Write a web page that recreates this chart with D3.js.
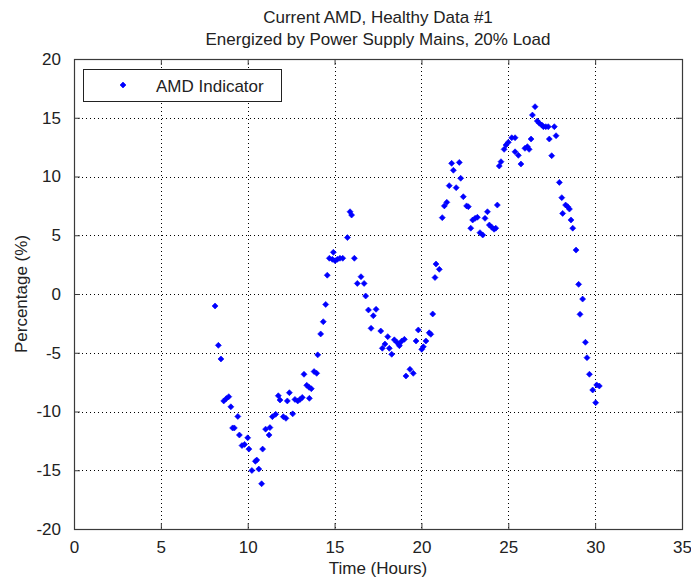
<!DOCTYPE html>
<html>
<head>
<meta charset="utf-8">
<script src="https://cdn.jsdelivr.net/npm/d3@7"></script>
<style>
  html, body { margin: 0; padding: 0; background: #fff; }
  svg text { font-family: "Liberation Sans", Arial, Helvetica, sans-serif; fill: #222; }
</style>
</head>
<body>
<svg id="chart" width="691" height="580"></svg>
<script>
// AMD indicator samples: time in hours and percentage
const timeHours = [
  8.12, 8.31, 8.46, 8.62, 8.77, 8.91, 9.03, 9.13, 9.23, 9.43,
  9.52, 9.67, 9.82, 10.0, 10.07, 10.24, 10.44, 10.52, 10.64, 10.8,
  10.86, 11.03, 11.23, 11.28, 11.42, 11.61, 11.76, 11.86, 12.05, 12.2,
  12.28, 12.4, 12.59, 12.72, 12.88, 13.01, 13.14, 13.24, 13.4, 13.53,
  13.55, 13.66, 13.82, 13.97, 14.03, 14.2, 14.35, 14.49, 14.58, 14.7,
  14.87, 14.93, 15.03, 15.16, 15.31, 15.47, 15.74, 15.89, 15.98, 16.14,
  16.31, 16.52, 16.7, 16.79, 16.95, 17.1, 17.23, 17.39, 17.66, 17.75,
  17.9, 18.06, 18.15, 18.29, 18.44, 18.58, 18.71, 18.73, 18.87, 19.02,
  19.11, 19.34, 19.53, 19.69, 19.82, 20.02, 20.11, 20.26, 20.45, 20.54,
  20.65, 20.78, 20.84, 21.03, 21.2, 21.32, 21.46, 21.6, 21.74, 21.84,
  22.0, 22.18, 22.26, 22.41, 22.6, 22.7, 22.84, 22.95, 23.09, 23.22,
  23.37, 23.53, 23.66, 23.8, 23.91, 24.05, 24.18, 24.28, 24.37, 24.48,
  24.58, 24.76, 24.87, 25.0, 25.2, 25.39, 25.39, 25.58, 25.73, 25.96,
  26.1, 26.2, 26.31, 26.39, 26.54, 26.67, 26.79, 26.93, 27.02, 27.16,
  27.3, 27.36, 27.5, 27.65, 27.75, 27.94, 28.08, 28.13, 28.3, 28.42,
  28.52, 28.61, 28.71, 28.9, 29.05, 29.13, 29.28, 29.44, 29.53, 29.67,
  29.86, 30.03, 30.09, 30.24
];
const amdPercent = [
  -1.02, -4.37, -5.53, -9.1, -8.9, -8.74, -9.6, -11.4, -11.4, -10.42,
  -12.0, -12.9, -12.8, -12.24, -13.2, -15.02, -14.24, -14.13, -14.9, -16.15,
  -13.2, -11.5, -12.0, -11.37, -10.44, -10.24, -8.66, -9.02, -10.44, -10.58,
  -9.1, -8.4, -10.2, -8.97, -9.1, -8.97, -8.8, -6.83, -7.77, -7.94,
  -8.88, -8.06, -6.6, -6.75, -5.18, -3.4, -2.36, -0.89, 1.6, 3.04,
  2.95, 3.55, 2.83, 2.95, 3.04, 3.04, 4.8, 7.0, 6.72, 3.04,
  0.9, 1.47, 0.9, -0.17, -1.36, -2.92, -1.85, -1.3, -3.15, -4.62,
  -4.26, -3.63, -4.62, -5.13, -3.9, -4.1, -4.26, -4.4, -4.0, -3.86,
  -6.98, -6.41, -6.75, -4.0, -3.06, -4.71, -4.49, -4.0, -3.3, -3.43,
  -1.7, 1.4, 2.55, 2.1, 6.5, 7.5, 7.8, 9.22, 11.12, 10.53,
  9.05, 11.2, 9.85, 8.28, 7.5, 7.43, 5.6, 6.3, 6.44, 6.53,
  5.22, 5.02, 6.44, 7.0, 5.87, 5.68, 5.51, 5.6, 7.57, 10.89,
  11.26, 12.31, 12.68, 12.91, 13.3, 13.3, 12.1, 11.8, 11.06, 12.4,
  12.54, 12.31, 13.19, 15.23, 15.94, 14.72, 14.53, 14.38, 14.24, 14.24,
  14.24, 13.19, 11.77, 14.24, 13.47, 9.5, 8.2, 6.86, 7.57, 7.43,
  7.23, 6.3, 5.6, 3.74, 0.82, -1.73, -0.43, -4.11, -5.42, -6.83,
  -8.17, -9.25, -7.74, -7.83
];

const xTicks = [0, 5, 10, 15, 20, 25, 30, 35];
const yTicks = [-20, -15, -10, -5, 0, 5, 10, 15, 20];
const titleLines = ["Current AMD, Healthy Data #1", "Energized by Power Supply Mains, 20% Load"];
const xLabel = "Time (Hours)";
const yLabel = "Percentage (%)";
const legendLabel = "AMD Indicator";

const svg = d3.select("#chart");
const plot = { left: 74, right: 682, top: 59, bottom: 529 };

const x = d3.scaleLinear().domain([0, 35]).range([plot.left, plot.right]);
const y = d3.scaleLinear().domain([-20, 20]).range([plot.bottom, plot.top]);

const axisColor = "#3a3a3a";
const fontSize = 17;
const plainNumber = d => String(d); // ASCII hyphen for negatives

// dotted grid
const grid = svg.append("g");
grid.selectAll("line.gx").data(xTicks.slice(1, -1)).join("line")
  .attr("x1", d => Math.round(x(d)) + 0.5).attr("x2", d => Math.round(x(d)) + 0.5)
  .attr("y1", plot.top).attr("y2", plot.bottom)
  .attr("stroke", "#000").attr("stroke-width", 1).attr("stroke-dasharray", "1,3");
grid.selectAll("line.gy").data(yTicks.slice(1, -1)).join("line")
  .attr("y1", d => Math.round(y(d)) + 0.5).attr("y2", d => Math.round(y(d)) + 0.5)
  .attr("x1", plot.left).attr("x2", plot.right)
  .attr("stroke", "#000").attr("stroke-width", 1).attr("stroke-dasharray", "1,3");

// axes with inward ticks on all four sides
function styleAxis(g) {
  g.selectAll(".domain").remove();
  g.selectAll(".tick line").attr("stroke", axisColor);
  g.selectAll(".tick text").attr("font-size", fontSize).attr("fill", "#222")
    .attr("font-family", "'Liberation Sans', Arial, sans-serif");
}
svg.append("g").attr("transform", `translate(0,${plot.bottom})`)
  .call(d3.axisBottom(x).tickValues(xTicks).tickFormat(plainNumber).tickSizeInner(-6).tickPadding(12))
  .call(styleAxis);
svg.append("g").attr("transform", `translate(0,${plot.top})`)
  .call(d3.axisTop(x).tickValues(xTicks).tickFormat("").tickSizeInner(-6))
  .call(styleAxis);
svg.append("g").attr("transform", `translate(${plot.left},0)`)
  .call(d3.axisLeft(y).tickValues(yTicks).tickFormat(plainNumber).tickSizeInner(-6).tickPadding(13))
  .call(styleAxis);
svg.append("g").attr("transform", `translate(${plot.right},0)`)
  .call(d3.axisRight(y).tickValues(yTicks).tickFormat("").tickSizeInner(-6))
  .call(styleAxis);

// axes box
svg.append("rect")
  .attr("x", plot.left + 0.5).attr("y", plot.top + 0.5)
  .attr("width", plot.right - plot.left).attr("height", plot.bottom - plot.top)
  .attr("fill", "none").attr("stroke", axisColor).attr("stroke-width", 1.2);

// diamond markers
const r = 3;
const diamond = `M0,${-r}L${r},0L0,${r}L${-r},0Z`;
svg.append("g").selectAll("path").data(timeHours.map((t, i) => [t, amdPercent[i]])).join("path")
  .attr("d", diamond)
  .attr("transform", d => `translate(${x(d[0])},${y(d[1])})`)
  .attr("fill", "#0000ff").attr("stroke", "#0000ff").attr("stroke-width", 0.6);

// legend
const legend = svg.append("g");
legend.append("rect").attr("x", 83.5).attr("y", 69.5).attr("width", 198).attr("height", 32)
  .attr("fill", "#fff").attr("stroke", "#222").attr("stroke-width", 1);
legend.append("path").attr("d", diamond).attr("transform", "translate(123,85)")
  .attr("fill", "#0000ff").attr("stroke", "#0000ff").attr("stroke-width", 0.6);
legend.append("text").attr("x", 156).attr("y", 91.5).attr("font-size", fontSize).text(legendLabel);

// titles and axis labels
svg.append("g").selectAll("text").data(titleLines).join("text")
  .attr("x", (plot.left + plot.right) / 2).attr("y", (d, i) => 23 + i * 22)
  .attr("text-anchor", "middle").attr("font-size", fontSize).text(d => d);
svg.append("text").attr("x", (plot.left + plot.right) / 2).attr("y", 574)
  .attr("text-anchor", "middle").attr("font-size", fontSize).text(xLabel);
svg.append("text").attr("transform", `translate(27,${(plot.top + plot.bottom) / 2}) rotate(-90)`)
  .attr("text-anchor", "middle").attr("font-size", fontSize).text(yLabel);
</script>
</body>
</html>
